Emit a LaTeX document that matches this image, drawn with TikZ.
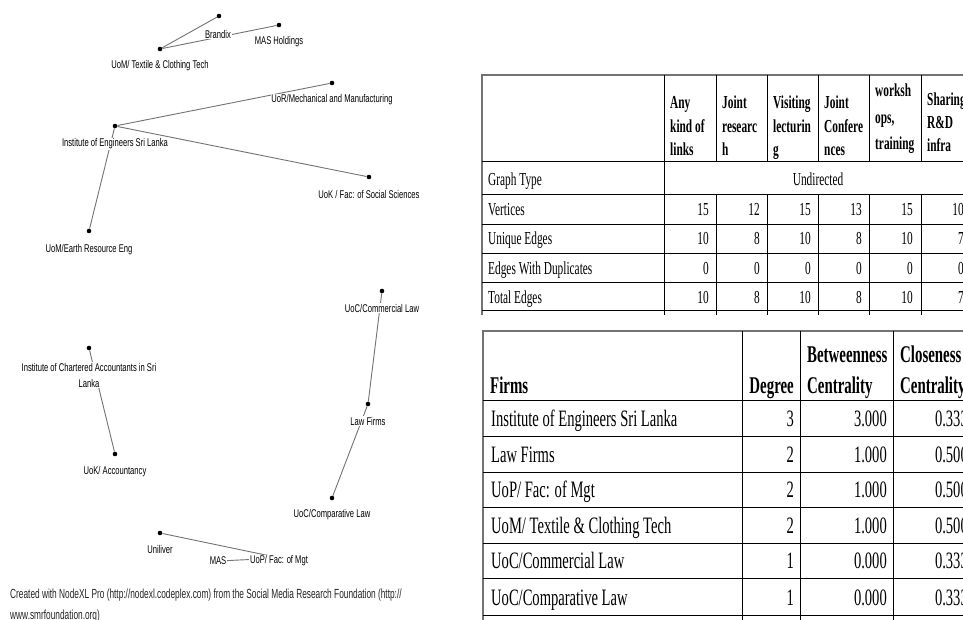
\documentclass[tikz,border=0pt]{standalone}
\usepackage{fontspec}
\setmainfont{Liberation Serif}
\newfontfamily\tabfont[FakeStretch=0.62]{Liberation Serif}
\newfontfamily\labfont[FakeStretch=0.68]{Liberation Sans}
\newfontfamily\footfont[FakeStretch=0.63]{Liberation Sans}
\tikzset{
  vdot/.style={circle, fill=black, inner sep=0pt, minimum size=4.6pt},
  lab/.style={font=\labfont\fontsize{11.2}{16}\selectfont, fill=white, inner sep=0.6pt, align=center, text=black},
  edge/.style={draw=black!55, line width=0.9pt},
  hd/.style={font=\tabfont\bfseries\fontsize{18.3}{22}\selectfont, inner sep=0pt, anchor=base west},
  bd/.style={font=\tabfont\fontsize{18.3}{22}\selectfont, inner sep=0pt, anchor=base west},
  num/.style={font=\tabfont\fontsize{18.3}{22}\selectfont, inner sep=0pt, anchor=base east},
  hdb/.style={font=\tabfont\bfseries\fontsize{24}{26}\selectfont, inner sep=0pt},
  bdb/.style={font=\tabfont\fontsize{23.5}{26}\selectfont, inner sep=0pt},
  tline/.style={line width=0.8pt, draw=black},
  oline/.style={line width=1.1pt, draw=black!55},
  foot/.style={font=\footfont\fontsize{13.2}{16}\selectfont, inner sep=0pt, anchor=west, text=black!85},
}
\begin{document}
\begin{tikzpicture}[x=1pt,y=-1pt]
\useasboundingbox (0,0) rectangle (963,620);
\clip (0,0) rectangle (963,620);
\fill[white] (0,0) rectangle (963,620);

% ---------------- graph: vertices ----------------
\node[vdot] (brandix) at (219,16) {};
\node[vdot] (masH) at (279,25) {};
\node[vdot] (uomT) at (160,49) {};
\node[vdot] (uorM) at (332,83) {};
\node[vdot] (ieSL) at (115,126) {};
\node[vdot] (ukSS) at (369,177) {};
\node[vdot] (uomE) at (89,231) {};
\node[vdot] (ucCL) at (382,291) {};
\node[vdot] (lawF) at (368,404) {};
\node[vdot] (ucCP) at (332,498) {};
\node[vdot] (ica) at (89,348) {};
\node[vdot] (ukA) at (115,454) {};
\node[vdot] (unil) at (160,533) {};
\node[vdot] (mas) at (219,561) {};
\node[vdot] (uop) at (280,558) {};

% ---------------- graph: edges ----------------
\draw[edge] (uomT) -- (brandix);
\draw[edge] (uomT) -- (masH);
\draw[edge] (ieSL) -- (uorM);
\draw[edge] (ieSL) -- (ukSS);
\draw[edge] (ieSL) -- (uomE);
\draw[edge] (ucCL) -- (lawF);
\draw[edge] (lawF) -- (ucCP);
\draw[edge] (ica) -- (ukA);
\draw[edge] (unil) -- (uop);
\draw[edge] (mas) -- (uop);

% ---------------- graph: labels ----------------
\node[lab] (brandixL) at (218,34) {Brandix};
\node[lab] (masHL) at (279,42) {MAS Holdings};
\node[lab] (uomTL) at (160,66) {UoM/ Textile \& Clothing Tech};
\node[lab] (uorML) at (332,100) {UoR/Mechanical and Manufacturing};
\node[lab] (ieSLL) at (115,144) {Institute of Engineers Sri Lanka};
\node[lab] (ukSSL) at (369,194) {UoK / Fac: of Social Sciences};
\node[lab] (uomEL) at (89,250) {UoM/Earth Resource Eng};
\node[lab] (ucCLL) at (382,308) {UoC/Commercial Law};
\node[lab] (lawFL) at (368,421) {Law Firms};
\node[lab] (ucCPL) at (332,515) {UoC/Comparative Law};
\node[lab] (icaL) at (89,375) {Institute of Chartered Accountants in Sri\\Lanka};
\node[lab] (ukAL) at (115,472) {UoK/ Accountancy};
\node[lab] (unilL) at (160,549) {Uniliver};
\node[lab] (masL) at (218,561) {MAS};
\node[lab] (uopL) at (279,561) {UoP/ Fac: of Mgt};

\node[foot] (foot1) at (10,595) {Created with NodeXL Pro (http://nodexl.codeplex.com) from the Social Media Research Foundation (http://};
\node[foot] (foot2) at (10,616) {www.smrfoundation.org)};

% ---------------- table 1 ----------------
\draw[oline] (482,315) -- (482,75) -- (975,75);
\draw[tline] (482,161) -- (975,161);
\draw[tline] (482,194) -- (975,194);
\draw[tline] (482,224) -- (975,224);
\draw[tline] (482,253) -- (975,253);
\draw[tline] (482,282) -- (975,282);
\draw[tline] (482,310) -- (975,310);
\draw[tline] (664,75) -- (664,315);
\foreach \cx in {716,767,818,869,921}{
  \draw[tline] (\cx,75) -- (\cx,161);
  \draw[tline] (\cx,194) -- (\cx,315);
}

% header
\node[hd] (h1a) at (670,109) {Any};
\node[hd] (h1b) at (670,133) {kind of};
\node[hd] (h1c) at (670,156) {links};
\node[hd] (h2a) at (722,109) {Joint};
\node[hd] (h2b) at (722,133) {researc};
\node[hd] (h2c) at (722,156) {h};
\node[hd] (h3a) at (773,109) {Visiting};
\node[hd] (h3b) at (773,133) {lecturin};
\node[hd] (h3c) at (773,156) {g};
\node[hd] (h4a) at (824,109) {Joint};
\node[hd] (h4b) at (824,133) {Confere};
\node[hd] (h4c) at (824,156) {nces};
\node[hd] (h5a) at (875,97) {worksh};
\node[hd] (h5b) at (875,124) {ops,};
\node[hd] (h5c) at (875,150) {training};
\node[hd] (h6a) at (927,106) {Sharing};
\node[hd] (h6b) at (927,129) {R\&D};
\node[hd] (h6c) at (927,152) {infra};

% rows
\node[bd] (r1) at (488,186) {Graph Type};
\node[bd] (r2) at (488,216) {Vertices};
\node[bd] (r3) at (488,245) {Unique Edges};
\node[bd] (r4) at (488,274) {Edges With Duplicates};
\node[bd] (r5) at (488,303) {Total Edges};
\node[font=\tabfont\fontsize{18.3}{22}\selectfont, inner sep=0pt, anchor=base] (undir) at (818,186) {Undirected};

\foreach \v [count=\i] in {15,12,15,13,15,10}{
  \pgfmathsetmacro{\xx}{709+51*(\i-1)}
  \node[num] (v\i) at (\xx,216) {\v};
}
\foreach \v [count=\i] in {10,8,10,8,10,7}{
  \pgfmathsetmacro{\xx}{709+51*(\i-1)}
  \node[num] (u\i) at (\xx,245) {\v};
}
\foreach \v [count=\i] in {0,0,0,0,0,0}{
  \pgfmathsetmacro{\xx}{709+51*(\i-1)}
  \node[num] (d\i) at (\xx,274) {\v};
}
\foreach \v [count=\i] in {10,8,10,8,10,7}{
  \pgfmathsetmacro{\xx}{709+51*(\i-1)}
  \node[num] (t\i) at (\xx,303) {\v};
}

% ---------------- table 2 ----------------
\draw[oline] (483,620) -- (483,331) -- (975,331);
\foreach \ry in {400,436,472,507,543,578,615}{
  \draw[tline] (483,\ry) -- (975,\ry);
}
\foreach \cx in {742,800,893}{
  \draw[tline] (\cx,331) -- (\cx,620);
}
\node[hdb, anchor=base west] (fH) at (490,393) {Firms};
\node[hdb, anchor=base east] (dH) at (794,393) {Degree};
\node[hdb, anchor=base west] (bH1) at (807,362) {Betweenness};
\node[hdb, anchor=base west] (bH2) at (807,393) {Centrality};
\node[hdb, anchor=base west] (cH1) at (900,362) {Closeness};
\node[hdb, anchor=base west] (cH2) at (900,393) {Centrality};

\node[bdb, anchor=base west] (f1) at (491,426) {Institute of Engineers Sri Lanka};
\node[bdb, anchor=base west] (f2) at (491,462) {Law Firms};
\node[bdb, anchor=base west] (f3) at (491,497) {UoP/ Fac: of Mgt};
\node[bdb, anchor=base west] (f4) at (491,533) {UoM/ Textile \& Clothing Tech};
\node[bdb, anchor=base west] (f5) at (491,568) {UoC/Commercial Law};
\node[bdb, anchor=base west] (f6) at (491,605) {UoC/Comparative Law};

\foreach \dg/\bt/\cl/\yy [count=\i] in {3/3.000/0.333/426, 2/1.000/0.500/462, 2/1.000/0.500/497, 2/1.000/0.500/533, 1/0.000/0.333/568, 1/0.000/0.333/605}{
  \node[bdb, anchor=base east] (dg\i) at (794,\yy) {\dg};
  \node[bdb, anchor=base east] (bt\i) at (887,\yy) {\bt};
  \node[bdb, anchor=base east] (cl\i) at (968,\yy) {\cl};
}
\end{tikzpicture}
\end{document}
